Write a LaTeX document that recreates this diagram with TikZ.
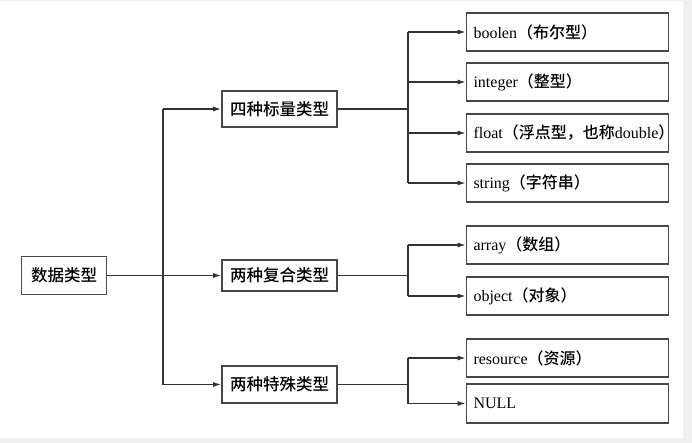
\documentclass[tikz,border=0pt]{standalone}
\usepackage{fontspec}
\setmainfont{Liberation Serif}
\newfontfamily\cjk{Noto Sans CJK SC}[UprightFont={* Medium}, BoldFont={* Bold}]
\usetikzlibrary{arrows.meta}
\definecolor{bggray}{HTML}{F0F0F0}
\definecolor{ink}{HTML}{333333}
\tikzset{
  box/.style={draw=ink!90!white, line width=1.6pt, rectangle, inner sep=0pt},
  midbox/.style={box, minimum width=115pt, font=\cjk\fontsize{16.5}{18}\selectfont},
  leafbox/.style={box, minimum width=202pt, minimum height=38.5pt, text width=188pt, align=left, font=\fontsize{16}{18}\selectfont},
  conn/.style={draw=ink, line width=1.3pt},
  arr/.style={conn, -{Latex[length=8pt,width=5pt]}},
}
\begin{document}
\begin{tikzpicture}[x=1pt,y=-1pt]
\fill[bggray] (0,0) rectangle (692,443);
\fill[white] (0,1.5) rectangle (683,438);
\useasboundingbox (0,0) rectangle (692,443);
% root
\node[box, minimum width=85pt, minimum height=38pt, font=\cjk\fontsize{16.5}{18}\selectfont] (root) at (64,275.5) {数据类型};
% middle
\node[midbox, minimum height=36pt] (scalar) at (279.5,109) {四种标量类型};
\node[midbox, minimum height=31pt] (compound) at (279.5,275.5) {两种复合类型};
\node[midbox, minimum height=37pt] (special) at (279.5,384.5) {两种特殊类型};
% leaves
\node[leafbox] (boolen) at (567.5,32) {boolen{\cjk（布尔型）}};
\node[leafbox] (integer) at (567.5,82) {integer{\cjk（整型）}};
\node[leafbox] (float) at (567.5,133) {float{\cjk（浮点型，也称}double{\cjk）}};
\node[leafbox] (string) at (567.5,183) {string{\cjk（字符串）}};
\node[leafbox] (array) at (567.5,245) {array{\cjk（数组）}};
\node[leafbox] (object) at (567.5,296) {object{\cjk（对象）}};
\node[leafbox] (resource) at (567.5,358) {resource{\cjk（资源）}};
\node[leafbox] (null) at (567.5,403.5) {NULL};
% trunk coordinates
\coordinate (t1) at (163,109);
\coordinate (t3) at (163,384.5);
\coordinate (b1) at (408,109);
\coordinate (b2) at (408,275.5);
\coordinate (b3) at (408,384.5);
% connectors root -> middle
\draw[arr] (root.east) -- (compound.west);
\draw[conn] (t1) -- (t3);
\draw[arr] (t1) -- (scalar.west);
\draw[arr] (t3) -- (special.west);
% scalar branch
\draw[conn] (scalar.east) -- (b1);
\draw[conn] (408,32) -- (408,183);
\draw[arr] (408,32) -- (boolen.west);
\draw[arr] (408,82) -- (integer.west);
\draw[arr] (408,133) -- (float.west);
\draw[arr] (408,183) -- (string.west);
% compound branch
\draw[conn] (compound.east) -- (b2);
\draw[conn] (408,245) -- (408,296);
\draw[arr] (408,245) -- (array.west);
\draw[arr] (408,296) -- (object.west);
% special branch
\draw[conn] (special.east) -- (b3);
\draw[conn] (408,358) -- (408,403.5);
\draw[arr] (408,358) -- (resource.west);
\draw[arr] (408,403.5) -- (null.west);
\end{tikzpicture}
\end{document}
